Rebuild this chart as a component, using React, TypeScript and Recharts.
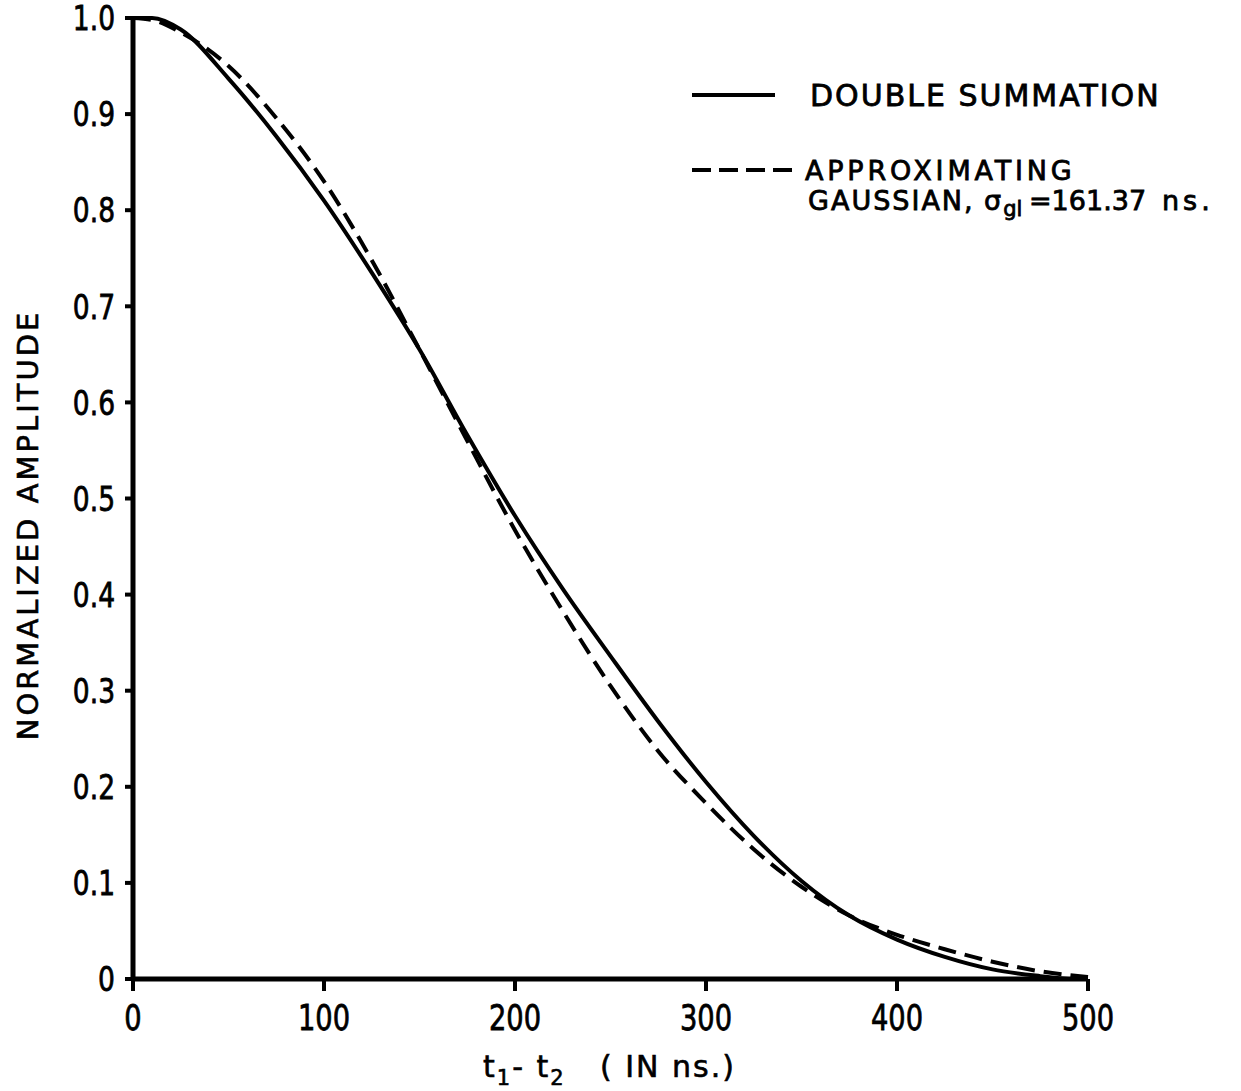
import React from 'react';
import { LineChart, Line, XAxis, YAxis, Legend } from 'recharts';

const xTicks = [0, 100, 200, 300, 400, 500];
const yTicks = [0, 0.1, 0.2, 0.3, 0.4, 0.5, 0.6, 0.7, 0.8, 0.9, 1.0];

const solidT = [0, 10, 25, 50, 75, 100, 125, 150, 175, 200, 225, 250, 275, 300, 325, 350, 375, 400, 425, 450, 475, 490];
const solidV = [1.0, 1.0, 0.988, 0.937, 0.877, 0.81, 0.735, 0.655, 0.566, 0.482, 0.406, 0.336, 0.268, 0.205, 0.149, 0.102, 0.066, 0.041, 0.023, 0.01, 0.003, 0.0];

const gaussT = [0, 10, 25, 50, 75, 100, 125, 150, 175, 200, 225, 250, 275, 300, 325, 350, 375, 400, 425, 450, 475, 500];
const gaussV = [1.0, 0.998, 0.985, 0.95, 0.896, 0.83, 0.748, 0.655, 0.56, 0.467, 0.383, 0.305, 0.237, 0.183, 0.135, 0.096, 0.066, 0.046, 0.031, 0.018, 0.008, 0.002];

const seriesNames = ['DOUBLE SUMMATION', 'APPROXIMATING GAUSSIAN'];

const solidData = solidT.map((t, i) => ({ t, v: solidV[i] }));
const gaussData = gaussT.map((t, i) => ({ t, v: gaussV[i] }));

const FONT = "'DejaVu Sans', sans-serif";

const XTick = (props: any) => {
  const { x, y, payload } = props;
  return (
    <text
      transform={`translate(${x},${y}) scale(0.78,1)`}
      x={0}
      y={0}
      dy="0.75em"
      textAnchor="middle"
      fontFamily={FONT}
      fontSize={35}
      fill="#000"
      stroke="#000"
      strokeWidth={0.8}
    >
      {payload.value}
    </text>
  );
};

const YTick = (props: any) => {
  const { x, y, payload } = props;
  const v = payload.value as number;
  return (
    <text
      transform={`translate(${x},${y}) scale(0.78,1)`}
      x={0}
      y={0}
      dy="0.36em"
      textAnchor="end"
      fontFamily={FONT}
      fontSize={34}
      fill="#000"
      stroke="#000"
      strokeWidth={0.8}
    >
      {v === 0 ? '0' : v.toFixed(1)}
    </text>
  );
};

const renderLegend = () => (
  <svg width={560} height={170} style={{ display: 'block' }}>
    <line x1={12} y1={35} x2={95} y2={35} stroke="#000" strokeWidth={4} />
    <text x={130} y={46} fontFamily={FONT} fontSize={30} letterSpacing={2} fill="#000" stroke="#000" strokeWidth={0.8}>
      DOUBLE  SUMMATION
    </text>
    <line x1={12} y1={110} x2={120} y2={110} stroke="#000" strokeWidth={4} strokeDasharray="19 8" />
    <text x={125} y={120} fontFamily={FONT} fontSize={27} letterSpacing={3.8} fill="#000" stroke="#000" strokeWidth={0.8}>
      APPROXIMATING
    </text>
    <text x={128} y={150} fontFamily={FONT} fontSize={27} letterSpacing={2} fill="#000" stroke="#000" strokeWidth={0.8}>
      GAUSSIAN,
      <tspan x={304}>σ</tspan>
      <tspan fontSize={21} dy={6} letterSpacing={0}>gl</tspan>
      <tspan x={349} dy={-6} letterSpacing={0}>=161.37</tspan>
      <tspan x={482} letterSpacing={4}>ns.</tspan>
    </text>
  </svg>
);

const XLabel = () => (
  <text x={483} y={1077} fontFamily={FONT} fontSize={30} letterSpacing={2} fill="#000" stroke="#000" strokeWidth={0.6}>
    t<tspan fontSize={21} dy={8}>1</tspan>
    <tspan dy={-8}>- t</tspan>
    <tspan fontSize={21} dy={8}>2</tspan>
    <tspan x={600} dy={-8}>( IN ns.)</tspan>
  </text>
);

const YLabel = () => (
  <text
    x={38}
    y={525}
    transform="rotate(-90 38 525)"
    textAnchor="middle"
    fontFamily={FONT}
    fontSize={29}
    letterSpacing={3}
    fill="#000"
    stroke="#000"
    strokeWidth={0.6}
  >
    NORMALIZED  AMPLITUDE
  </text>
);

export default function App() {
  return (
    <div style={{ position: 'absolute', left: 0, top: 0, background: '#fff' }}>
      <LineChart width={1241} height={1091} margin={{ top: 18, right: 153, bottom: 0, left: 0 }}>
        <XAxis
          dataKey="t"
          type="number"
          domain={[0, 500]}
          ticks={xTicks}
          allowDuplicatedCategory={false}
          height={112}
          stroke="#000"
          strokeWidth={5}
          tickSize={12}
          tickMargin={13}
          tick={<XTick />}
          tickLine={{ stroke: '#000', strokeWidth: 4 }}
          label={{ content: () => <XLabel /> }}
        />
        <YAxis
          type="number"
          domain={[0, 1]}
          ticks={yTicks}
          width={133}
          stroke="#000"
          strokeWidth={5}
          tickSize={8}
          tickMargin={10}
          tick={<YTick />}
          tickLine={{ stroke: '#000', strokeWidth: 4 }}
          label={{ content: () => <YLabel /> }}
        />
        <Legend
          layout="vertical"
          align="center"
          verticalAlign="middle"
          content={renderLegend}
          wrapperStyle={{ position: 'absolute', left: 680, top: 60, width: 560, height: 170 }}
        />
        <Line
          data={solidData}
          dataKey="v"
          name={seriesNames[0]}
          type="monotone"
          stroke="#000"
          strokeWidth={4}
          dot={false}
          isAnimationActive={false}
        />
        <Line
          data={gaussData}
          dataKey="v"
          name={seriesNames[1]}
          type="monotone"
          stroke="#000"
          strokeWidth={4}
          strokeDasharray="18 9"
          dot={false}
          isAnimationActive={false}
        />
      </LineChart>
    </div>
  );
}
